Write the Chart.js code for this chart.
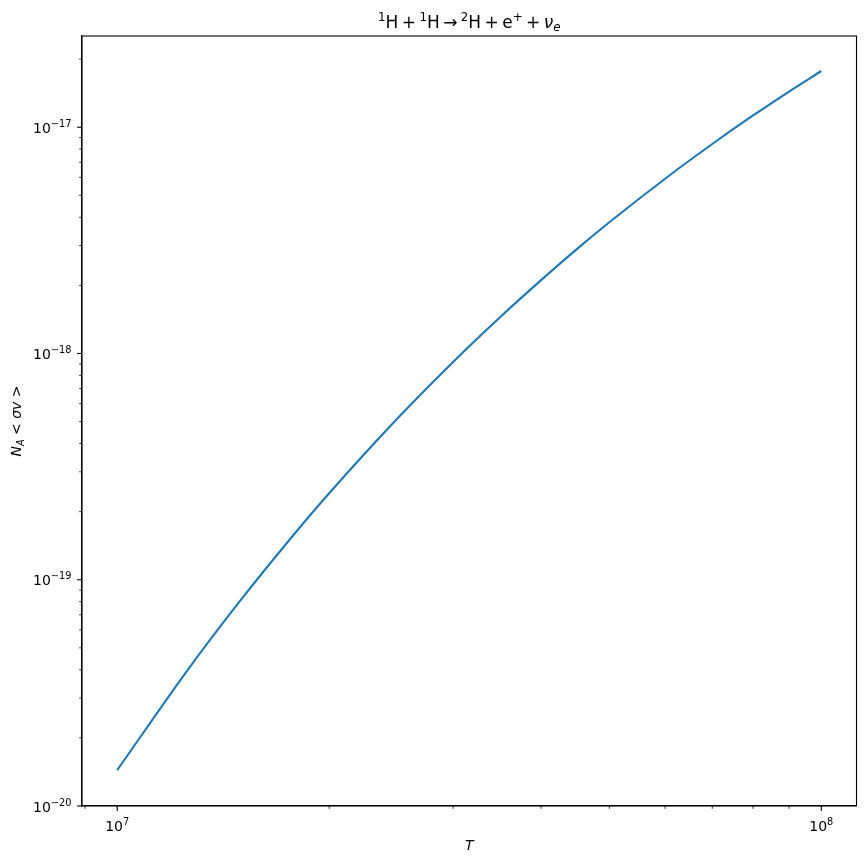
<!DOCTYPE html>
<html><head><meta charset="utf-8">
<script src="https://cdn.jsdelivr.net/npm/chart.js@4.4.1/dist/chart.umd.min.js"></script>
<style>html,body{margin:0;padding:0;background:#fff;}#wrap{width:866px;height:864px;}</style>
</head><body>
<div id="wrap"><canvas id="c" width="866" height="864"></canvas></div>
<script>
// Data
const temperatures = [1.0e7, 1.25e7, 1.5e7, 1.75e7, 2.0e7, 2.5e7, 3.0e7, 3.5e7, 4.0e7, 4.5e7, 5.0e7, 6.0e7, 7.0e7, 8.0e7, 9.0e7, 1.0e8];
const rates = [1.44e-20, 3.87e-20, 8.18e-20, 1.48e-19, 2.41e-19, 5.16e-19, 9.18e-19, 1.45e-18, 2.11e-18, 2.90e-18, 3.80e-18, 5.92e-18, 8.43e-18, 1.127e-17, 1.438e-17, 1.772e-17];
const xMajorTicks = [1e7, 1e8];
const xMajorExponents = ['7', '8'];
const yMajorTicks = [1e-20, 1e-19, 1e-18, 1e-17];
const yMajorExponents = ['\u221220', '\u221219', '\u221218', '\u221217'];
const xLabel = 'T';
// Title: 1H + 1H -> 2H + e+ + nu_e   (pieces: text, kind)
const titlePieces = [
  ['1', 'sup'], ['H', 'rm'], ['\u2009+\u2009', 'rm'], ['1', 'sup'], ['H', 'rm'], ['\u2009\u2192\u2009', 'rm'], ['2', 'sup'], ['H', 'rm'],
  ['\u2009+\u2009', 'rm'], ['e', 'rm'], ['+', 'sup'], ['\u2009+\u2009', 'rm'], ['\u03BD', 'it'], ['e', 'subit']
];

const FONT = 'DejaVu Sans';

function same(a, b) { return Math.abs(Math.log10(a) - Math.log10(b)) < 1e-9; }

function buildLogTicks(min, max) {
  const out = [];
  const k0 = Math.floor(Math.log10(min)) - 1, k1 = Math.ceil(Math.log10(max)) + 1;
  for (let k = k0; k <= k1; k++) {
    for (let m = 1; m <= 9; m++) {
      const v = m * Math.pow(10, k);
      if (v >= min * (1 - 1e-9) && v <= max * (1 + 1e-9)) out.push({ value: v, major: m === 1 });
    }
  }
  return out;
}

function fontStr(size, italic) { return (italic ? 'italic ' : '') + size + 'px "' + FONT + '"'; }

// parts: {t, size, italic, dy}; align: 'left' | 'center' | 'right'
function drawRich(ctx, parts, x, y, align) {
  let total = 0;
  parts.forEach(p => { ctx.font = fontStr(p.size, p.italic); p.w = ctx.measureText(p.t).width; total += p.w; });
  let cx = align === 'center' ? x - total / 2 : (align === 'right' ? x - total : x);
  ctx.textAlign = 'left';
  ctx.textBaseline = 'alphabetic';
  parts.forEach(p => { ctx.font = fontStr(p.size, p.italic); ctx.fillText(p.t, cx, y + (p.dy || 0)); cx += p.w; });
}

const framePlugin = {
  id: 'frame',
  afterDraw(chart) {
    const { ctx, chartArea: a } = chart;
    const xs = chart.scales.x, ys = chart.scales.y;
    ctx.save();
    ctx.strokeStyle = '#000';
    ctx.fillStyle = '#000';
    ctx.lineWidth = 1.1;
    ctx.strokeRect(a.left, a.top, a.right - a.left, a.bottom - a.top);
    // tick marks
    xs.ticks.forEach(t => {
      const px = xs.getPixelForValue(t.value);
      if (px < a.left - 0.5 || px > a.right + 0.5) return;
      const len = t.major ? 4.9 : 2.8;
      ctx.lineWidth = t.major ? 1.1 : 0.8;
      ctx.beginPath(); ctx.moveTo(px, a.bottom); ctx.lineTo(px, a.bottom + len); ctx.stroke();
    });
    ys.ticks.forEach(t => {
      const py = ys.getPixelForValue(t.value);
      if (py < a.top - 0.5 || py > a.bottom + 0.5) return;
      const len = t.major ? 4.9 : 2.8;
      ctx.lineWidth = t.major ? 1.1 : 0.8;
      ctx.beginPath(); ctx.moveTo(a.left, py); ctx.lineTo(a.left - len, py); ctx.stroke();
    });
    // major tick labels 10^k
    xMajorTicks.forEach((v, i) => {
      const px = xs.getPixelForValue(v);
      drawRich(ctx, [{ t: '10', size: 14 }, { t: xMajorExponents[i], size: 9.8, dy: -6 }], px, a.bottom + 25, 'center');
    });
    yMajorTicks.forEach((v, i) => {
      const py = ys.getPixelForValue(v);
      drawRich(ctx, [{ t: '10', size: 14 }, { t: yMajorExponents[i], size: 9.8, dy: -6 }], a.left - 10.5, py + 5.5, 'right');
    });
    // title
    const tparts = titlePieces.map(([t, k]) => {
      if (k === 'sup') return { t, size: 11.9, dy: -7.5 };
      if (k === 'it') return { t, size: 17, italic: true };
      if (k === 'subit') return { t, size: 11.9, italic: true, dy: 2.5 };
      return { t, size: 17 };
    });
    drawRich(ctx, tparts, (a.left + a.right) / 2, 28, 'center');
    // y axis label N_A < σv >
    const yparts = [
      { t: 'N', size: 14, italic: true },
      { t: 'A', size: 9.8, italic: true, dy: 2.5 },
      { t: ' < ', size: 14 },
      { t: '\u03C3v', size: 14, italic: true },
      { t: ' >', size: 14 }
    ];
    ctx.translate(21, (a.top + a.bottom) / 2);
    ctx.rotate(-Math.PI / 2);
    drawRich(ctx, yparts, 0, 0, 'center');
    ctx.restore();
  }
};

const points = temperatures.map((t, i) => ({ x: t, y: rates[i] }));

new Chart(document.getElementById('c'), {
  type: 'line',
  data: { datasets: [{ data: points, borderColor: '#1f77b4', borderWidth: 2.1, pointRadius: 0, fill: false, cubicInterpolationMode: 'monotone' }] },
  options: {
    responsive: false, animation: false, devicePixelRatio: 1,
    layout: { padding: { left: 0, right: 9.5, top: 36, bottom: 0 } },
    plugins: { legend: { display: false }, tooltip: { enabled: false }, title: { display: false } },
    scales: {
      x: {
        type: 'logarithmic', min: 8.9125e6, max: 1.122e8,
        afterBuildTicks: s => { s.ticks = buildLogTicks(s.min, s.max); },
        afterFit: s => { s.height = 58; },
        grid: { display: true, drawOnChartArea: false, drawTicks: true, tickLength: 5, tickColor: 'rgba(0,0,0,0)' },
        border: { display: true, color: '#000', width: 1.1 },
        ticks: { display: false, autoSkip: false },
        title: { display: true, text: xLabel, color: '#000', font: { family: FONT, size: 14, style: 'italic' }, padding: { top: 0, bottom: 9.6 } }
      },
      y: {
        type: 'logarithmic', min: 1e-20, max: 2.53e-17,
        afterBuildTicks: s => { s.ticks = buildLogTicks(s.min, s.max); },
        afterFit: s => { s.width = 82; },
        grid: { display: true, drawOnChartArea: false, drawTicks: true, tickLength: 5, tickColor: 'rgba(0,0,0,0)' },
        border: { display: true, color: '#000', width: 1.1 },
        ticks: { display: false, autoSkip: false }
      }
    }
  },
  plugins: [framePlugin]
});
</script>
</body></html>
